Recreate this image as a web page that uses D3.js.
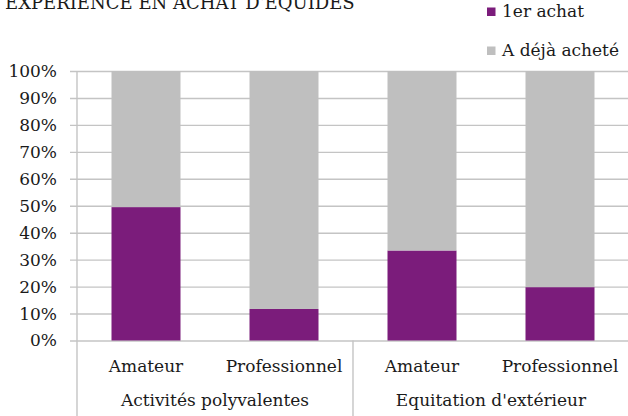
<!DOCTYPE html>
<html>
<head>
<meta charset="utf-8">
<script src="https://cdn.jsdelivr.net/npm/d3@7"></script>
<style>
  body { margin: 0; background: #fff; }
  svg text { font-family: "DejaVu Serif", "Liberation Serif", serif; fill: #1a1a1a; }
</style>
</head>
<body>
<div id="chart"></div>
<script>
// data
var groups = ["Activités polyvalentes", "Equitation d'extérieur"];
var profils = ["Amateur", "Professionnel"];
var premierAchat = [49.5, 11.7, 33.4, 19.8];
var dejaAchete = [50.5, 88.3, 66.6, 80.2];
var seriesNames = ["1er achat", "A déjà acheté"];
var yTicks = [0, 10, 20, 30, 40, 50, 60, 70, 80, 90, 100];

var width = 628,
  height = 416;

var colors = {"1er achat": "#7b1c7b", "A déjà acheté": "#bfbfbf"};

var plotLeft = 77, plotRight = 629, plotTop = 71, plotBottom = 340.5;
var fontSize = "17px";

var rows = [];
groups.forEach(function (g, i) {
  profils.forEach(function (p, j) {
    var k = i * profils.length + j;
    rows.push({group: g, profil: p, "1er achat": premierAchat[k], "A déjà acheté": dejaAchete[k]});
  });
});

var svg = d3.select("#chart").append("svg")
  .attr("width", width)
  .attr("height", height);

var y = d3.scaleLinear().domain([0, 100]).range([plotBottom, plotTop]);

var x0 = d3.scaleBand().domain(groups).range([plotLeft, plotRight]);
var x1 = d3.scaleBand().domain(profils)
  .range([0, x0.bandwidth()])
  .paddingInner(0.5)
  .paddingOuter(0.25);

// title, cut off at the top like the original
svg.append("text")
  .attr("x", 5)
  .attr("y", 8.5)
  .style("font-size", "18px")
  .text("EXPERIENCE EN ACHAT D'EQUIDES");

// gridlines + y labels
var yAxis = svg.append("g")
  .attr("transform", "translate(70,0)")
  .call(d3.axisLeft(y)
    .tickValues(yTicks)
    .tickFormat(function (d) { return d + "%"; })
    .tickSize(-(plotRight - 70))
    .tickPadding(13));
yAxis.attr("font-family", null);
yAxis.select(".domain").remove();
yAxis.selectAll("line").attr("stroke", "#c4c4c4").attr("stroke-width", 1.4);
yAxis.selectAll("text").style("font-size", fontSize).attr("fill", "#1a1a1a");

// bars
var stack = d3.stack().keys(seriesNames);
var layers = stack(rows);

svg.selectAll(".layer")
  .data(layers)
  .enter().append("g")
  .attr("class", "layer")
  .attr("fill", function (d) { return colors[d.key]; })
  .selectAll("rect")
  .data(function (d) { return d; })
  .enter().append("rect")
  .attr("x", function (d) { return x0(d.data.group) + x1(d.data.profil); })
  .attr("width", x1.bandwidth())
  .attr("y", function (d) { return y(d[1]); })
  .attr("height", function (d) { return y(d[0]) - y(d[1]); });

// vertical axis line and category separators
var seps = [plotLeft].concat(groups.map(function (g) { return x0(g) + x0.bandwidth(); }));
svg.selectAll(".sep")
  .data(seps)
  .enter().append("line")
  .attr("class", "sep")
  .attr("x1", function (d) { return d; })
  .attr("x2", function (d) { return d; })
  .attr("y1", function (d, i) { return i == 0 ? plotTop : plotBottom; })
  .attr("y2", height)
  .attr("stroke", "#c4c4c4")
  .attr("stroke-width", 1.4);

// x labels, two levels
groups.forEach(function (g) {
  var gx = svg.append("g").attr("transform", "translate(" + x0(g) + "," + plotBottom + ")");
  gx.call(d3.axisBottom(x1).tickSize(0).tickPadding(19));
  gx.attr("font-family", null);
  gx.select(".domain").remove();
  gx.selectAll("text").style("font-size", fontSize).attr("fill", "#1a1a1a");

  svg.append("text")
    .attr("x", x0(g) + x0.bandwidth() / 2)
    .attr("y", 406)
    .attr("text-anchor", "middle")
    .style("font-size", fontSize)
    .text(g);
});

// legend
var legend = svg.selectAll(".legend")
  .data(seriesNames)
  .enter().append("g")
  .attr("class", "legend")
  .attr("transform", function (d, i) { return "translate(487," + (7.5 + i * 39) + ")"; });

legend.append("rect")
  .attr("width", 8.5)
  .attr("height", 8.5)
  .attr("fill", function (d) { return colors[d]; });

legend.append("text")
  .attr("x", 15)
  .attr("y", 9.5)
  .style("font-size", fontSize)
  .text(function (d) { return d; });
</script>
</body>
</html>
